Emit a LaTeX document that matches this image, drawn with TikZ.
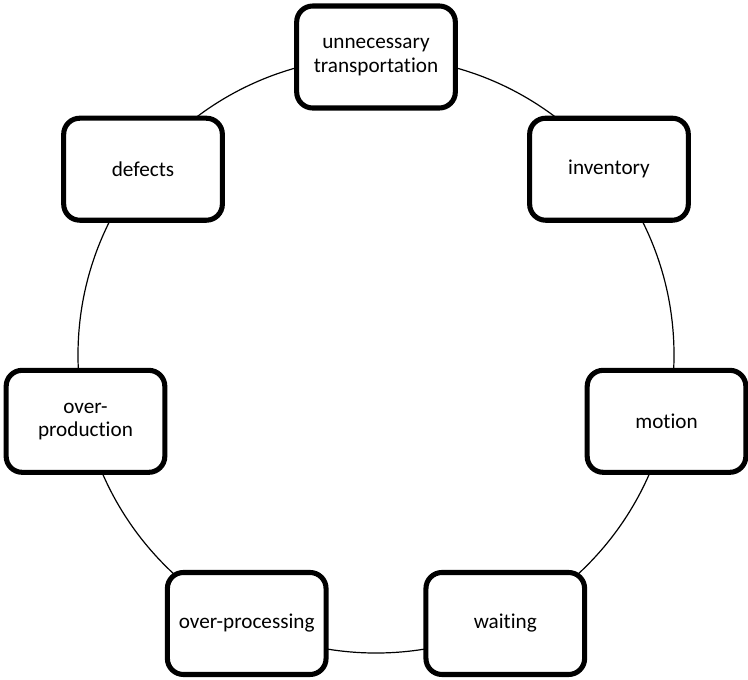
\documentclass[tikz,border=0pt]{standalone}
\usepackage{fontspec}
\setmainfont[Ligatures=CommonOff]{Carlito}
\begin{document}
\begin{tikzpicture}[x=0.75pt,y=-0.75pt,
  waste/.style={draw=black, line width=3.8pt, rounded corners=12pt, fill=white,
    minimum width=119pt, minimum height=76.5pt, align=center, inner sep=2pt,
    font=\fontsize{15.9}{17.5}\selectfont},
  ring/.style={draw=black, line width=0.9pt}]
\useasboundingbox (0,0) rectangle (748,679);
\def\cx{376}\def\cy{355}\def\R{298}
\draw[ring] (\cx,\cy) circle [radius=298*0.75pt];
\foreach \k/\name/\txt in {0/t/{unnecessary\\transportation},1/i/inventory,2/m/motion,3/w/waiting,4/op/over-processing,5/od/{over-\\production},6/d/defects}{
  \pgfmathsetmacro{\ang}{90-\k*360/7}
  \node[waste] (\name) at ({\cx+\R*cos(\ang)},{\cy-\R*sin(\ang)}) {\txt};
}
\end{tikzpicture}
\end{document}
